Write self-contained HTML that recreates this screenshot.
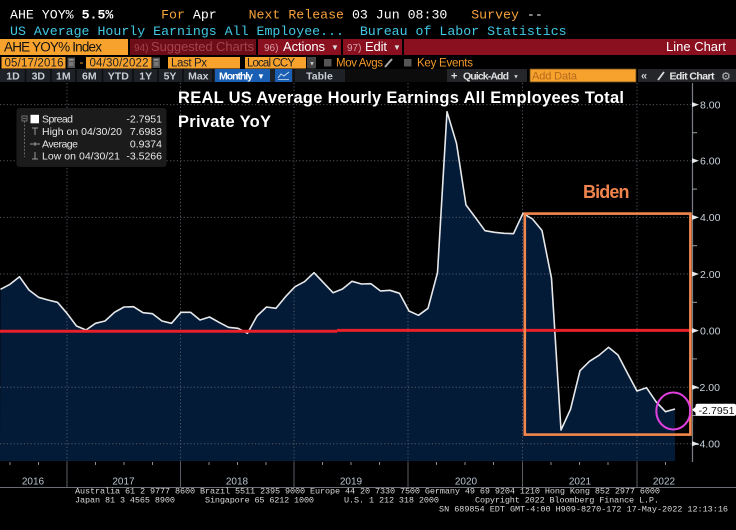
<!DOCTYPE html>
<html><head><meta charset="utf-8"><style>
html,body{margin:0;padding:0;background:#000;}
svg{display:block;}
</style></head><body>
<svg width="736" height="530" viewBox="0 0 736 530" xmlns="http://www.w3.org/2000/svg">
<rect x="0" y="0" width="736" height="530" fill="#000"/>

<!-- Header row 1 -->
<text x="10" y="18.5" font-family="Liberation Mono, monospace" font-size="13.25" fill="#fff" xml:space="preserve">AHE YOY% <tspan font-weight="bold">5.5%</tspan>      <tspan fill="#f6a23a">For</tspan> Apr    <tspan fill="#f6a23a">Next Release</tspan> 03 Jun 08:30   <tspan fill="#f6a23a">Survey</tspan> --</text>
<!-- Header row 2 -->
<text x="10" y="35" font-family="Liberation Mono, monospace" font-size="13.25" fill="#40c8e4" xml:space="preserve">US Average Hourly Earnings All Employee...  Bureau of Labor Statistics</text>

<!-- Row 3 -->
<rect x="0" y="39" width="128" height="16" fill="#f8a22e"/>
<text x="4" y="51.5" font-family="Liberation Sans, sans-serif" font-size="13.5" fill="#111" textLength="98">AHE YOY% Index</text>
<rect x="130" y="39" width="126" height="16" fill="#6c0d17"/>
<text x="134" y="51" font-family="Liberation Sans, sans-serif" font-size="10" fill="#a8434d">94)</text>
<text x="151" y="51" font-family="Liberation Sans, sans-serif" font-size="13" fill="#a8434d" textLength="103">Suggested Charts</text>
<rect x="258" y="39" width="83" height="16" fill="#8a1020"/>
<text x="264" y="51" font-family="Liberation Sans, sans-serif" font-size="10" fill="#d8a0a8">96)</text>
<text x="283" y="51" font-family="Liberation Sans, sans-serif" font-size="13" fill="#fff" textLength="42">Actions</text>
<text x="331" y="50" font-family="Liberation Sans, sans-serif" font-size="8" fill="#ddd">▼</text>
<rect x="343" y="39" width="59" height="16" fill="#8a1020"/>
<text x="347" y="51" font-family="Liberation Sans, sans-serif" font-size="10" fill="#d8a0a8">97)</text>
<text x="365" y="51" font-family="Liberation Sans, sans-serif" font-size="13" fill="#fff" textLength="22">Edit</text>
<text x="393" y="50" font-family="Liberation Sans, sans-serif" font-size="8" fill="#ddd">▼</text>
<rect x="404" y="39" width="332" height="16" fill="#8a1020"/>
<text x="726" y="51" text-anchor="end" font-family="Liberation Sans, sans-serif" font-size="13" fill="#fff" textLength="60">Line Chart</text>

<!-- Row 4 -->
<rect x="1.5" y="57" width="64" height="11.5" fill="#f8a22e"/>
<text x="4.5" y="66.3" font-family="Liberation Sans, sans-serif" font-size="11.5" fill="#222" textLength="59">05/17/2016</text>
<rect x="67.5" y="57.5" width="7.5" height="10.5" fill="#555"/>
<rect x="69" y="59" width="4.5" height="1.5" fill="#999"/>
<rect x="69" y="62" width="4.5" height="4" fill="#777"/>
<text x="79.5" y="66" font-family="Liberation Sans, sans-serif" font-size="12" fill="#f8a22e">-</text>
<rect x="86" y="57" width="65.5" height="11.5" fill="#f8a22e"/>
<text x="89.5" y="66.3" font-family="Liberation Sans, sans-serif" font-size="11.5" fill="#222" textLength="59">04/30/2022</text>
<rect x="152.5" y="57.5" width="7.5" height="10.5" fill="#555"/>
<rect x="154" y="59" width="4.5" height="1.5" fill="#999"/>
<rect x="154" y="62" width="4.5" height="4" fill="#777"/>
<rect x="168" y="57" width="72" height="11.5" fill="#f8a22e"/>
<text x="171" y="66.3" font-family="Liberation Sans, sans-serif" font-size="11.5" fill="#222" textLength="36">Last Px</text>
<rect x="245" y="57" width="61" height="11.5" fill="#f8a22e"/>
<text x="247" y="66.3" font-family="Liberation Sans, sans-serif" font-size="11.5" fill="#222" textLength="48">Local CCY</text>
<rect x="307" y="57" width="9" height="11.5" fill="#444"/>
<text x="309" y="65.5" font-family="Liberation Sans, sans-serif" font-size="6" fill="#ccc">▼</text>
<rect x="324" y="59" width="7.5" height="7.5" fill="#555"/>
<text x="336" y="66.3" font-family="Liberation Sans, sans-serif" font-size="11.5" fill="#f39a2a" textLength="47">Mov Avgs</text>
<line x1="385" y1="67" x2="392" y2="59" stroke="#aaa" stroke-width="2"/>
<rect x="404" y="59" width="7.5" height="7.5" fill="#555"/>
<text x="417" y="66.3" font-family="Liberation Sans, sans-serif" font-size="11.5" fill="#f39a2a" textLength="56">Key Events</text>

<!-- Row 5 -->
<rect x="0" y="69" width="345" height="13" fill="#1e2126"/>
<rect x="345" y="69" width="102" height="13" fill="#0c0c0c"/>
<rect x="447" y="69" width="80" height="13" fill="#24262a"/>
<rect x="638" y="69" width="98" height="13" fill="#24262a"/>
<g stroke="#0b0c0e" stroke-width="1.5">
<line x1="25.5" y1="69" x2="25.5" y2="82"/><line x1="51" y1="69" x2="51" y2="82"/>
<line x1="76" y1="69" x2="76" y2="82"/><line x1="102.5" y1="69" x2="102.5" y2="82"/>
<line x1="133" y1="69" x2="133" y2="82"/><line x1="158" y1="69" x2="158" y2="82"/>
<line x1="183" y1="69" x2="183" y2="82"/><line x1="213" y1="69" x2="213" y2="82"/>
<line x1="294" y1="69" x2="294" y2="82"/>
</g>
<g font-family="Liberation Sans, sans-serif" font-size="10.5" font-weight="bold" fill="#c9ced6" text-anchor="middle">
<text x="13" y="79.5">1D</text><text x="38.3" y="79.5">3D</text><text x="63.3" y="79.5">1M</text>
<text x="89.3" y="79.5">6M</text><text x="118.3" y="79.5">YTD</text><text x="145.7" y="79.5">1Y</text>
<text x="170" y="79.5">5Y</text><text x="198.3" y="79.5">Max</text>
<text x="319.5" y="79.5">Table</text>
</g>
<rect x="215" y="69" width="55" height="13" fill="#1a5fb4"/>
<text x="219" y="79.5" font-family="Liberation Sans, sans-serif" font-size="10.5" font-weight="bold" fill="#fff" textLength="34">Monthly</text>
<text x="257" y="79" font-family="Liberation Sans, sans-serif" font-size="8" fill="#fff">▼</text>
<rect x="275" y="69" width="17" height="13" fill="#1a5fb4"/>
<polyline points="278,78 281,74 284,76 289,72" fill="none" stroke="#cde" stroke-width="1"/>
<line x1="278" y1="79.5" x2="289" y2="79.5" stroke="#cde" stroke-width="0.8"/>
<text x="451" y="79.5" font-family="Liberation Sans, sans-serif" font-size="11" font-weight="bold" fill="#e0e0e0">+</text>
<text x="463" y="79.5" font-family="Liberation Sans, sans-serif" font-size="10.5" font-weight="bold" fill="#e0e0e0" textLength="46">Quick-Add</text>
<text x="513" y="78.5" font-family="Liberation Sans, sans-serif" font-size="6" fill="#ccc">▼</text>
<rect x="530" y="69" width="106" height="13" fill="#f8a22e" stroke="#6a4a20" stroke-width="0.8"/>
<text x="532" y="79.5" font-family="Liberation Sans, sans-serif" font-size="11" fill="#b46a1c" textLength="45">Add Data</text>
<text x="641" y="79.5" font-family="Liberation Sans, sans-serif" font-size="11" font-weight="bold" fill="#d0d0d0">«</text>
<line x1="658" y1="80" x2="664" y2="72" stroke="#ddd" stroke-width="1.8"/>
<text x="669.5" y="79.5" font-family="Liberation Sans, sans-serif" font-size="10.5" font-weight="bold" fill="#e6e6e6" textLength="45">Edit Chart</text>
<text x="721" y="80" font-family="DejaVu Sans, sans-serif" font-size="11" fill="#bbb">⚙</text>

<!-- Chart area -->
<defs><clipPath id="pc"><rect x="0" y="83" width="692" height="379"/></clipPath></defs>
<g clip-path="url(#pc)">
<polygon fill="#041b38" points="0,461 0.5,289.3 10,284.3 19.5,276.7 29,290 38.5,297.3 48,300 57.5,302.3 67,313.3 76.5,326 86,330 95.5,323.3 105,321 114.5,312.3 124,307 133.5,306.7 143,312.7 152.5,313.7 162,321 171.5,323.3 181,312.3 190.5,312.3 200,320 209.5,317 219,322.3 228.5,327.3 238,328.3 247.5,333.3 257,316 266.5,307 276,308.3 285.5,296.7 295,286.7 304.5,281.7 314,272.7 323.5,282.7 333,292.7 342.5,289 352,281.3 361.5,284 371,283.7 380.5,291 390,290.3 399.5,293.3 409,311 418.5,315.3 428,308.3 437.5,272.7 447,111.7 456.5,143.3 466,205 475.5,217.7 485,230.7 494.5,232.3 504,233.3 513.5,233.7 523,213.3 532.5,219 542,230.5 551.5,278.3 561,430 570.5,409.3 580,370.7 589.5,361.3 599,355.3 608.5,347.3 618,355 627.5,373.3 637,391 646.5,387.7 656,401.7 665.5,411.7 675,409 675,461"/>
<g stroke="#59606a" stroke-width="1" stroke-dasharray="1.2 2.2" opacity="0.9">
<line x1="0" y1="104.6" x2="692" y2="104.6"/>
<line x1="0" y1="160.8" x2="692" y2="160.8"/>
<line x1="0" y1="217.4" x2="692" y2="217.4"/>
<line x1="0" y1="274" x2="692" y2="274"/>
<line x1="0" y1="387.2" x2="692" y2="387.2"/>
<line x1="0" y1="443.8" x2="692" y2="443.8"/>
<line x1="67" y1="83" x2="67" y2="462"/>
<line x1="180.5" y1="83" x2="180.5" y2="462"/>
<line x1="294" y1="83" x2="294" y2="462"/>
<line x1="408" y1="83" x2="408" y2="462"/>
<line x1="522.5" y1="83" x2="522.5" y2="462"/>
<line x1="637" y1="83" x2="637" y2="462"/>
</g>
<polyline fill="none" stroke="#e6e8ea" stroke-width="1.6" stroke-linejoin="round" points="0.5,289.3 10,284.3 19.5,276.7 29,290 38.5,297.3 48,300 57.5,302.3 67,313.3 76.5,326 86,330 95.5,323.3 105,321 114.5,312.3 124,307 133.5,306.7 143,312.7 152.5,313.7 162,321 171.5,323.3 181,312.3 190.5,312.3 200,320 209.5,317 219,322.3 228.5,327.3 238,328.3 247.5,333.3 257,316 266.5,307 276,308.3 285.5,296.7 295,286.7 304.5,281.7 314,272.7 323.5,282.7 333,292.7 342.5,289 352,281.3 361.5,284 371,283.7 380.5,291 390,290.3 399.5,293.3 409,311 418.5,315.3 428,308.3 437.5,272.7 447,111.7 456.5,143.3 466,205 475.5,217.7 485,230.7 494.5,232.3 504,233.3 513.5,233.7 523,213.3 532.5,219 542,230.5 551.5,278.3 561,430 570.5,409.3 580,370.7 589.5,361.3 599,355.3 608.5,347.3 618,355 627.5,373.3 637,391 646.5,387.7 656,401.7 665.5,411.7 675,409"/>
<line x1="0" y1="331.3" x2="337" y2="331.3" stroke="#e8202a" stroke-width="3"/>
<line x1="337" y1="330.4" x2="692" y2="330.4" stroke="#e8202a" stroke-width="3"/>
</g>

<!-- Y axis -->
<line x1="692.5" y1="83" x2="692.5" y2="462" stroke="#7a7e84" stroke-width="1.2"/>
<g fill="#e4e8ec">
<polygon points="692,102.1 699,104.6 692,107.1"/>
<polygon points="692,158.3 699,160.8 692,163.3"/>
<polygon points="692,214.9 699,217.4 692,219.9"/>
<polygon points="692,271.5 699,274 692,276.5"/>
<polygon points="692,328.1 699,330.6 692,333.1"/>
<polygon points="692,384.7 699,387.2 692,389.7"/>
<polygon points="692,441.3 699,443.8 692,446.3"/>
</g>
<g stroke="#9aa0a6" stroke-width="1">
<line x1="692" y1="132.7" x2="697" y2="132.7"/>
<line x1="692" y1="189.1" x2="697" y2="189.1"/>
<line x1="692" y1="245.7" x2="697" y2="245.7"/>
<line x1="692" y1="302.3" x2="697" y2="302.3"/>
<line x1="692" y1="358.9" x2="697" y2="358.9"/>
<line x1="692" y1="415.5" x2="697" y2="415.5"/>
</g>
<g font-family="Liberation Sans, sans-serif" font-size="10.5" fill="#c8d2dc">
<text x="700" y="108.4">8.00</text>
<text x="700" y="164.6">6.00</text>
<text x="700" y="221.2">4.00</text>
<text x="700" y="277.8">2.00</text>
<text x="700" y="334.4">0.00</text>
<text x="696" y="391">-2.00</text>
<text x="696" y="447.6">-4.00</text>
</g>
<polygon points="692,409.7 696,406.5 696,413" fill="#fff"/>
<rect x="695.5" y="403.7" width="40.5" height="12.2" rx="2" fill="#fff"/>
<text x="698.5" y="413.8" font-family="Liberation Sans, sans-serif" font-size="10.5" fill="#111" textLength="36">-2.7951</text>

<!-- X axis -->
<g stroke="#8a8f95" stroke-width="1">
<line x1="10" y1="462" x2="10" y2="465"/><line x1="38.5" y1="462" x2="38.5" y2="465"/>
<line x1="95.5" y1="462" x2="95.5" y2="465"/><line x1="124" y1="462" x2="124" y2="465"/><line x1="152.5" y1="462" x2="152.5" y2="465"/>
<line x1="209" y1="462" x2="209" y2="465"/><line x1="237.5" y1="462" x2="237.5" y2="465"/><line x1="266" y1="462" x2="266" y2="465"/>
<line x1="322.5" y1="462" x2="322.5" y2="465"/><line x1="351" y1="462" x2="351" y2="465"/><line x1="379.5" y1="462" x2="379.5" y2="465"/>
<line x1="436.5" y1="462" x2="436.5" y2="465"/><line x1="465" y1="462" x2="465" y2="465"/><line x1="493.5" y1="462" x2="493.5" y2="465"/>
<line x1="551" y1="462" x2="551" y2="465"/><line x1="579.5" y1="462" x2="579.5" y2="465"/><line x1="608" y1="462" x2="608" y2="465"/>
<line x1="665.5" y1="462" x2="665.5" y2="465"/>
</g>
<g stroke="#5a5e64" stroke-width="1">
<line x1="67" y1="462" x2="67" y2="487"/><line x1="180.5" y1="462" x2="180.5" y2="487"/>
<line x1="294" y1="462" x2="294" y2="487"/><line x1="408" y1="462" x2="408" y2="487"/>
<line x1="522.5" y1="462" x2="522.5" y2="487"/><line x1="637" y1="462" x2="637" y2="487"/>
</g>
<line x1="0" y1="487.5" x2="736" y2="487.5" stroke="#6a6e74" stroke-width="1"/>
<g font-family="Liberation Sans, sans-serif" font-size="10" fill="#b8c4d0" text-anchor="middle">
<text x="33" y="484.5">2016</text><text x="123.5" y="484.5">2017</text><text x="237" y="484.5">2018</text>
<text x="351" y="484.5">2019</text><text x="466" y="484.5">2020</text><text x="580" y="484.5">2021</text>
<text x="664" y="484.5">2022</text>
</g>

<!-- Title -->
<text x="178" y="103" font-family="Liberation Sans, sans-serif" font-size="16.5" font-weight="bold" fill="#fff" textLength="446">REAL US Average Hourly Earnings All Employees Total</text>
<text x="178" y="127" font-family="Liberation Sans, sans-serif" font-size="16.5" font-weight="bold" fill="#fff" textLength="93">Private YoY</text>

<!-- Legend -->
<rect x="16.5" y="108" width="150" height="59" rx="3" fill="#1b1b1c"/>
<rect x="22" y="116" width="5" height="5" fill="none" stroke="#888" stroke-width="0.8"/>
<line x1="23" y1="118.5" x2="26" y2="118.5" stroke="#888" stroke-width="0.8"/>
<line x1="24.5" y1="121" x2="24.5" y2="157" stroke="#777" stroke-width="0.8" stroke-dasharray="2 1.5"/>
<rect x="30.5" y="114.8" width="8.5" height="8.5" fill="#fff"/>
<g stroke="#aaa" stroke-width="0.9">
<line x1="32" y1="128" x2="38" y2="128"/><line x1="35" y1="128" x2="35" y2="135"/>
<line x1="30" y1="144" x2="40" y2="144"/><line x1="35" y1="142" x2="35" y2="146"/>
<line x1="32" y1="159" x2="38" y2="159"/><line x1="35" y1="152" x2="35" y2="159"/>
</g>
<g font-family="Liberation Sans, sans-serif" font-size="10.5" fill="#e8e8e8">
<text x="42" y="122.7" textLength="31">Spread</text>
<text x="42" y="135" textLength="80">High on 04/30/20</text>
<text x="42" y="147.7" textLength="36">Average</text>
<text x="42" y="159.5" textLength="78">Low on 04/30/21</text>
</g>
<g font-family="Liberation Sans, sans-serif" font-size="10.5" fill="#e8e8e8" text-anchor="end">
<text x="162" y="122.7">-2.7951</text>
<text x="162" y="135">7.6983</text>
<text x="162" y="147.7">0.9374</text>
<text x="162" y="159.5">-3.5266</text>
</g>

<!-- Annotations -->
<rect x="524.8" y="213.6" width="165.6" height="221" fill="none" stroke="#f4874b" stroke-width="2.6"/>
<text x="583" y="198" font-family="Liberation Sans, sans-serif" font-size="18" font-weight="bold" fill="#f0844c" textLength="46.5">Biden</text>
<ellipse cx="673.3" cy="411" rx="17" ry="18.5" fill="none" stroke="#e040e0" stroke-width="2"/>

<!-- Footer -->
<g font-family="Liberation Mono, monospace" font-size="8.5" fill="#d8d8d8">
<text x="75" y="493.5" textLength="585">Australia 61 2 9777 8600 Brazil 5511 2395 9000 Europe 44 20 7330 7500 Germany 49 69 9204 1210 Hong Kong 852 2977 6000</text>
<text x="75" y="502.5" textLength="100">Japan 81 3 4565 8900</text>
<text x="205" y="502.5" textLength="109">Singapore 65 6212 1000</text>
<text x="344" y="502.5" textLength="95">U.S. 1 212 318 2000</text>
<text x="475" y="502.5" textLength="184">Copyright 2022 Bloomberg Finance L.P.</text>
<text x="439" y="511.7" textLength="289">SN 689854 EDT  GMT-4:00 H909-8270-172 17-May-2022 12:13:16</text>
</g>
</svg>
</body></html>
